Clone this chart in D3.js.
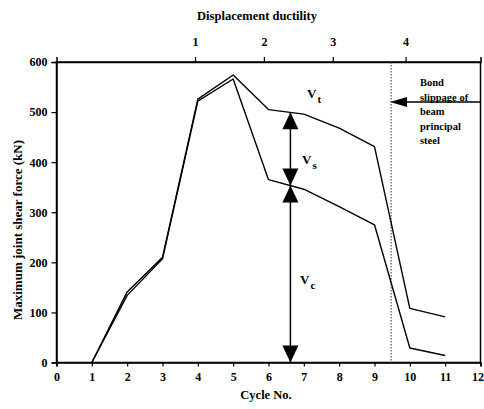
<!DOCTYPE html>
<html>
<head>
<meta charset="utf-8">
<script src="https://cdn.jsdelivr.net/npm/d3@7"></script>
<style>
  body { margin: 0; background: #fff; }
  svg { display: block; font-family: 'Liberation Serif', 'DejaVu Serif', serif; font-weight: bold; }
</style>
</head>
<body>
<svg id="chart" width="484" height="409"></svg>
<script>
// cycle numbers and the two measured shear envelopes (kN)
const cycles = [1, 2, 3, 4, 5, 6, 7, 8, 9, 10, 11]
const totalShear = [0, 141, 210, 526, 574, 505, 496, 468, 431, 108, 91]
const concreteShear = [0, 134, 207, 522, 566, 365, 346, 311, 275, 29, 14]

const xTicks = d3.range(0, 13)
const yTicks = [0, 100, 200, 300, 400, 500, 600]

// top axis: displacement ductility and the cycle it lines up with
const ductilityLabels = [1, 2, 3, 4]
const ductilityCycles = [3.92, 5.87, 7.82, 9.88]

const slipCycle = 9.47
const arrowCycle = 6.62
const noteLines = ['Bond', 'slippage of', 'beam', 'principal', 'steel']

const svg = d3.select('#chart')

const x = d3.scaleLinear().domain([0, 12]).range([56.5, 480.5])
const y = d3.scaleLinear().domain([0, 600]).range([362.5, 62])

// frame
svg.append('rect')
  .attr('x', x(0)).attr('y', y(600))
  .attr('width', x(12) - x(0)).attr('height', y(0) - y(600))
  .attr('fill', 'none').attr('stroke', '#000').attr('stroke-width', 1.5)

const xAxis = svg.append('g')
  .attr('transform', `translate(0, ${y(0)})`)
  .call(d3.axisBottom(x).tickValues(xTicks).tickSize(4).tickPadding(6))

const yAxis = svg.append('g')
  .attr('transform', `translate(${x(0)}, 0)`)
  .call(d3.axisLeft(y).tickValues(yTicks).tickSize(5).tickPadding(4))

const topAxis = svg.append('g')
  .attr('transform', `translate(0, ${y(600)})`)
  .call(d3.axisTop(x).tickValues(ductilityCycles)
    .tickFormat((d, i) => ductilityLabels[i]).tickSize(5).tickPadding(11))

;[xAxis, yAxis, topAxis].forEach(g => {
  g.select('.domain').attr('stroke-width', 1.5)
  g.selectAll('.tick line').attr('stroke-width', 1.2)
  g.selectAll('text')
    .attr('font-family', "'Liberation Serif', serif")
    .attr('font-weight', 'bold')
    .attr('font-size', 12)
    .attr('fill', '#000')
})

// keep the last cycle label inside the page
xAxis.selectAll('.tick text').filter(d => d === 12).attr('dx', -3)

// axis titles
svg.append('text')
  .attr('x', 257).attr('y', 20)
  .attr('text-anchor', 'middle').attr('font-size', 12.5)
  .text('Displacement ductility')

svg.append('text')
  .attr('x', 266).attr('y', 399)
  .attr('text-anchor', 'middle').attr('font-size', 12.5)
  .text('Cycle No.')

svg.append('text')
  .attr('transform', 'translate(22, 230) rotate(-90)')
  .attr('text-anchor', 'middle').attr('font-size', 13)
  .text('Maximum joint shear force (kN)')

// slippage marker
svg.append('line')
  .attr('x1', x(slipCycle)).attr('x2', x(slipCycle))
  .attr('y1', y(600)).attr('y2', y(0))
  .attr('stroke', '#333').attr('stroke-width', 1)
  .attr('stroke-dasharray', '1.5,1.5')

// envelopes
const line = d3.line().x((d, i) => x(cycles[i])).y(d => y(d))

svg.append('g')
  .selectAll('path')
  .data([totalShear, concreteShear])
  .join('path')
  .attr('d', line)
  .attr('fill', 'none')
  .attr('stroke', '#000')
  .attr('stroke-width', 1.4)
  .attr('stroke-linejoin', 'round')

// shear split arrows
const interp = series => {
  const i = Math.floor(arrowCycle) - 1
  const t = arrowCycle - cycles[i]
  return series[i] + (series[i + 1] - series[i]) * t
}
const vt = interp(totalShear)
const vc = interp(concreteShear)
const ax = x(arrowCycle)

svg.append('line')
  .attr('x1', ax).attr('x2', ax)
  .attr('y1', y(vt)).attr('y2', y(0))
  .attr('stroke', '#000').attr('stroke-width', 1.5)

const head = (tipY, dir) => {
  const len = 17
  const half = 8
  svg.append('path')
    .attr('d', `M${ax},${tipY} L${ax - half},${tipY + dir * len} L${ax + half},${tipY + dir * len} Z`)
    .attr('fill', '#000')
}
head(y(vt), 1)
head(y(vc), -1)
head(y(vc), 1)
head(y(0), -1)

// V labels with subscripts
const vLabels = [
  { sub: 't', x: 307, y: 98 },
  { sub: 's', x: 302, y: 164 },
  { sub: 'c', x: 300, y: 284 },
]
vLabels.forEach(d => {
  const t = svg.append('text')
    .attr('x', d.x).attr('y', d.y)
    .attr('font-size', 13)
  t.append('tspan').text('V')
  t.append('tspan').attr('dy', 5).attr('dx', 1).attr('font-size', 11).text(d.sub)
})

// note with arrow
svg.append('line')
  .attr('x1', x(12)).attr('x2', 404)
  .attr('y1', 102).attr('y2', 102)
  .attr('stroke', '#000').attr('stroke-width', 1.3)
svg.append('path')
  .attr('d', 'M390,102 L407,97 L407,107 Z')
  .attr('fill', '#000')

svg.append('text')
  .attr('font-size', 10.5)
  .selectAll('tspan')
  .data(noteLines)
  .join('tspan')
  .attr('x', 420)
  .attr('y', (d, i) => 86 + i * 14.5)
  .text(d => d)
</script>
</body>
</html>
